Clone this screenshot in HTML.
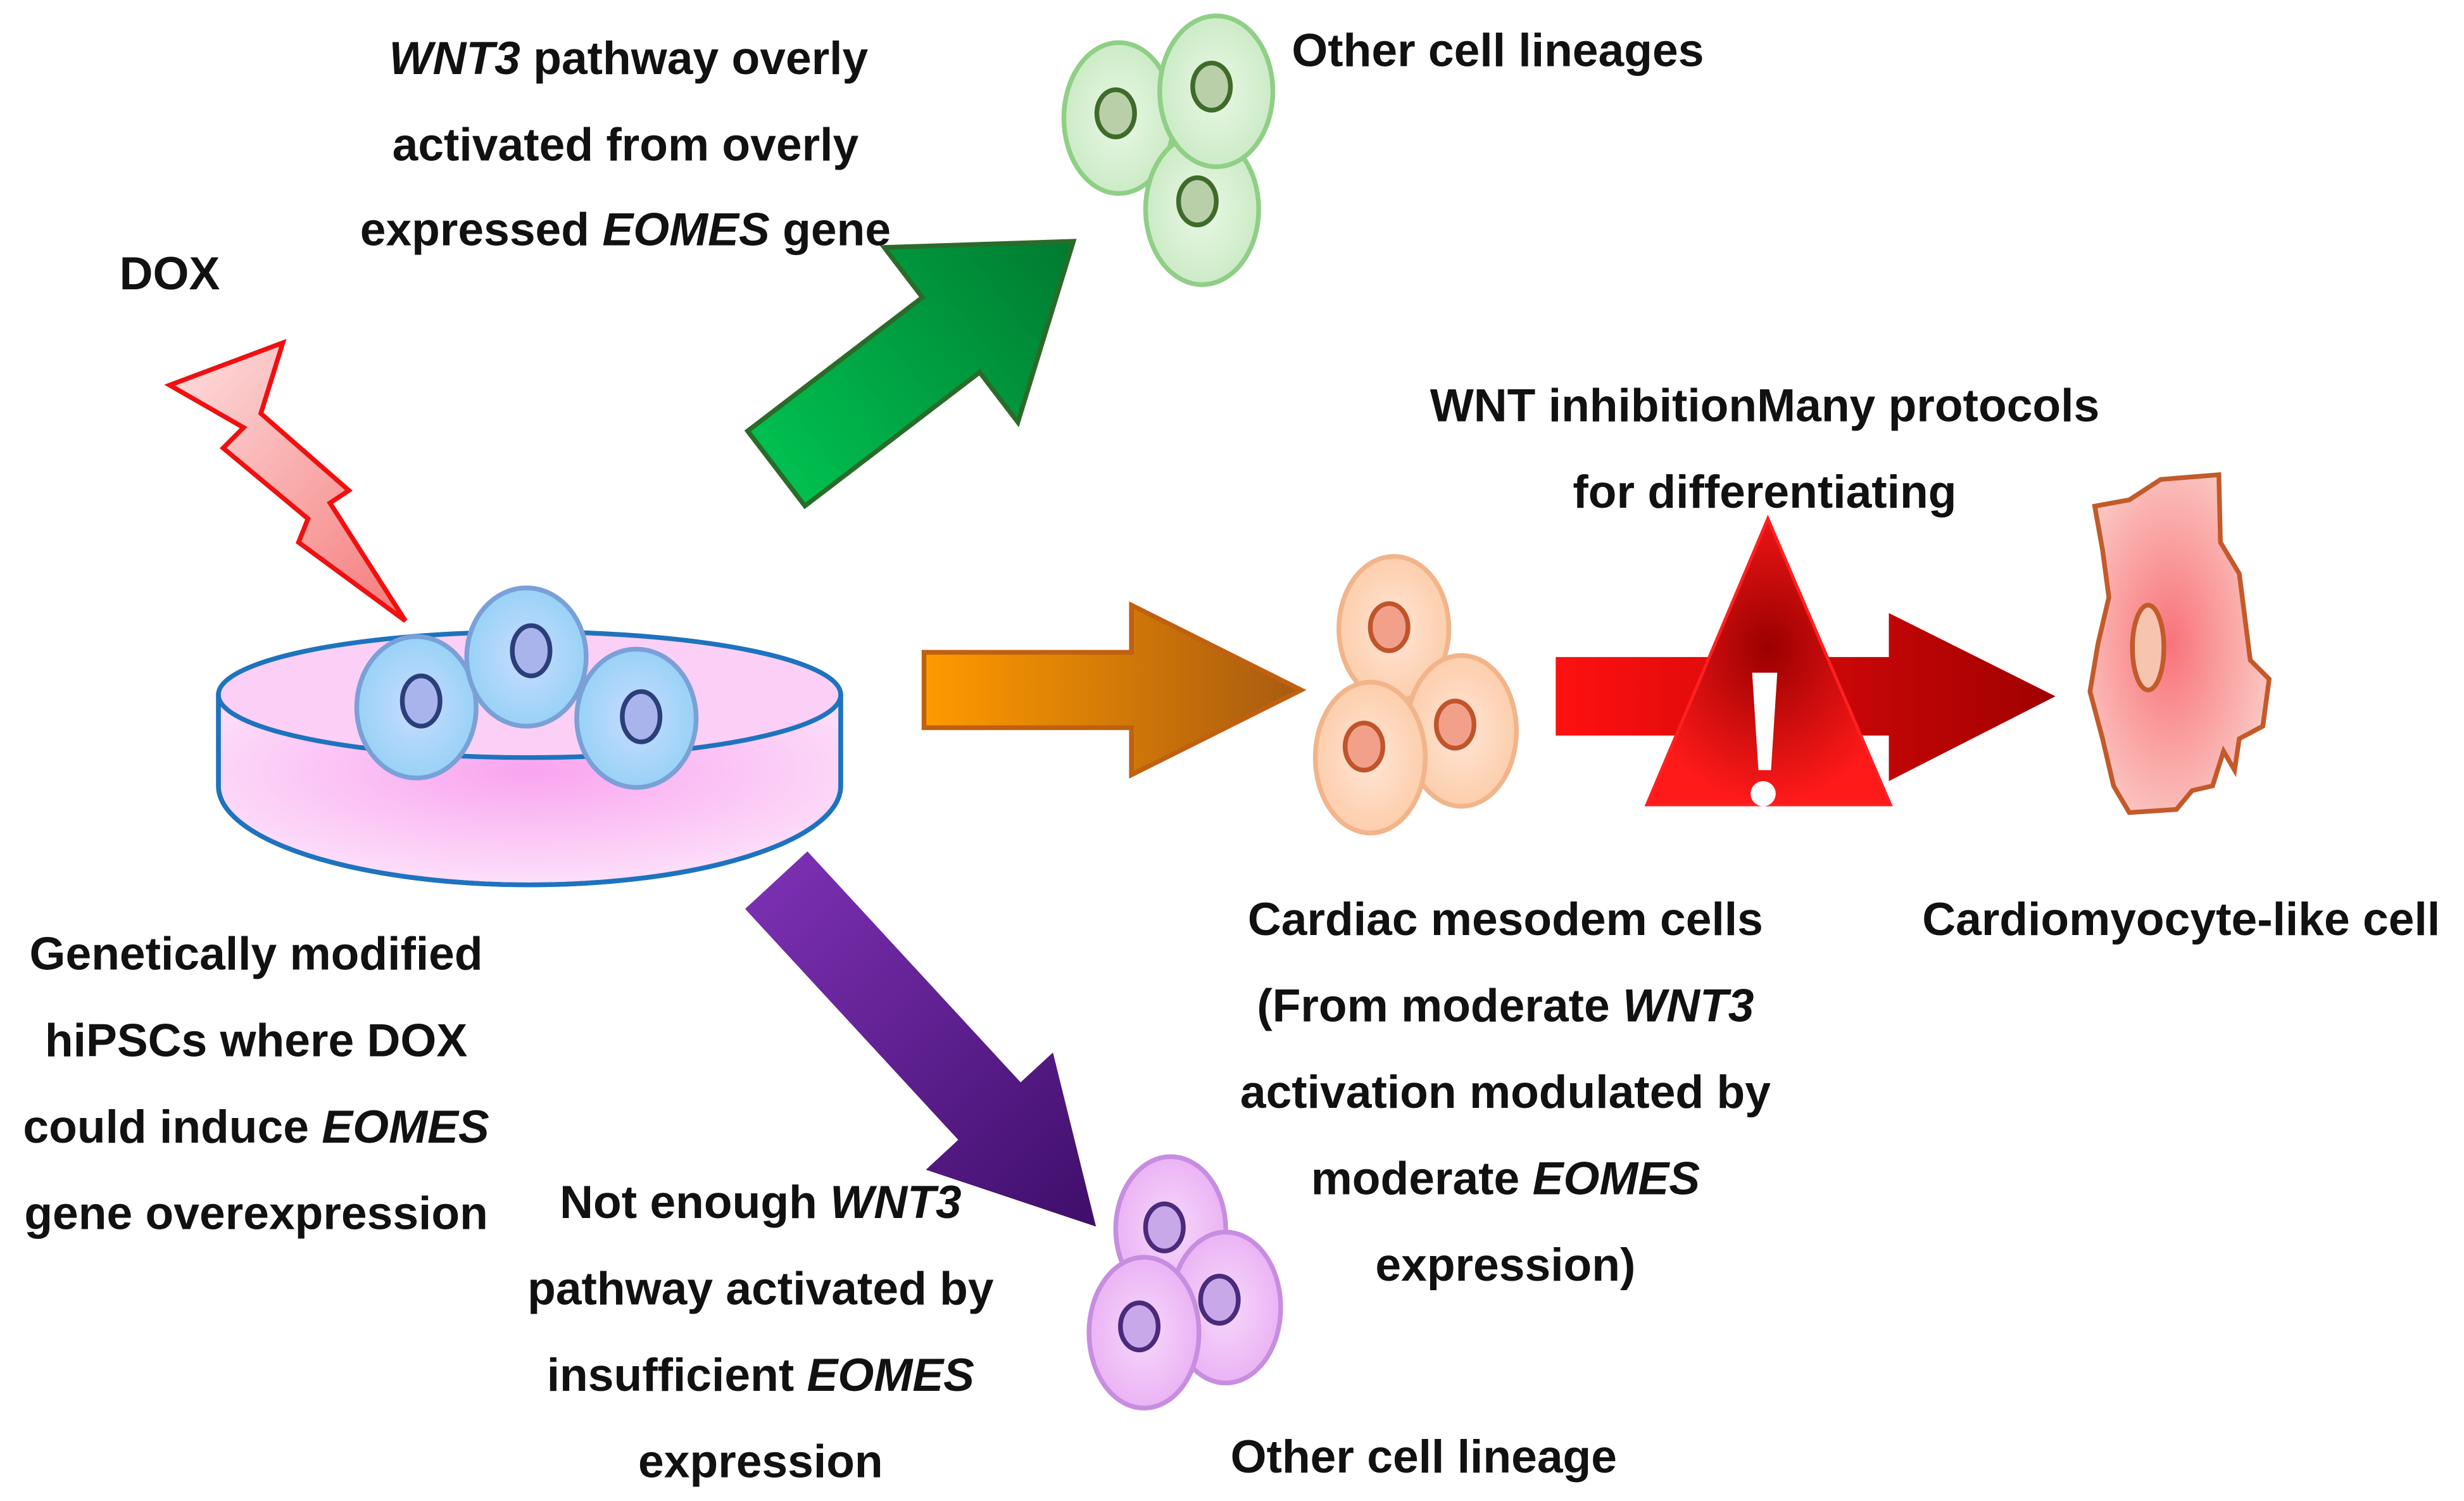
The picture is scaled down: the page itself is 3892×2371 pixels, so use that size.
<!DOCTYPE html>
<html><head><meta charset="utf-8"><style>
html,body{margin:0;padding:0;background:#fff;}
svg{display:block;}
text{font-family:"Liberation Sans",sans-serif;font-weight:bold;font-size:29.5px;fill:#111;}
</style></head><body>
<svg width="3892" height="2371" viewBox="0 0 1568 955" xmlns="http://www.w3.org/2000/svg">
<defs>
<radialGradient id="blueCell" cx="50%" cy="50%" r="60%"><stop offset="0" stop-color="#c9dcff"/><stop offset="1" stop-color="#8fd0f5"/></radialGradient>
<radialGradient id="greenCell" cx="50%" cy="50%" r="60%"><stop offset="0" stop-color="#eaf7e6"/><stop offset="1" stop-color="#c6e9c0"/></radialGradient>
<radialGradient id="orCell" cx="50%" cy="50%" r="60%"><stop offset="0" stop-color="#ffe6d6"/><stop offset="1" stop-color="#fcc9a4"/></radialGradient>
<radialGradient id="puCell" cx="50%" cy="50%" r="60%"><stop offset="0" stop-color="#f6d8fb"/><stop offset="1" stop-color="#e9acf3"/></radialGradient>
<radialGradient id="dish" cx="50%" cy="40%" r="60%"><stop offset="0" stop-color="#f9a4ef"/><stop offset="1" stop-color="#fde0fa"/></radialGradient>
<radialGradient id="cardio" cx="45%" cy="50%" r="55%"><stop offset="0" stop-color="#f8737a"/><stop offset="1" stop-color="#fbc5c0"/></radialGradient>
<radialGradient id="warn" cx="50%" cy="45%" r="55%"><stop offset="0" stop-color="#9a0000"/><stop offset="1" stop-color="#ff1a1a"/></radialGradient>
<linearGradient id="bolt" x1="0" y1="0" x2="1" y2="1"><stop offset="0" stop-color="#fde0e0"/><stop offset="1" stop-color="#f57a7a"/></linearGradient>
<linearGradient id="gArr" x1="0" y1="0" x2="1" y2="0"><stop offset="0" stop-color="#00c050"/><stop offset="1" stop-color="#007a30"/></linearGradient>
<linearGradient id="oArr" x1="0" y1="0" x2="1" y2="0"><stop offset="0" stop-color="#ff9a00"/><stop offset="1" stop-color="#a85a10"/></linearGradient>
<linearGradient id="rArr" x1="0" y1="0" x2="1" y2="0"><stop offset="0" stop-color="#ff1010"/><stop offset="1" stop-color="#a00000"/></linearGradient>
<linearGradient id="pArr" x1="0" y1="0" x2="1" y2="0"><stop offset="0" stop-color="#7a2fb0"/><stop offset="1" stop-color="#3e0e6a"/></linearGradient>
</defs>

<text x="400" y="47" text-anchor="middle"><tspan font-style="italic">WNT3</tspan> pathway overly</text>
<text x="398" y="102" text-anchor="middle">activated from overly</text>
<text x="398" y="156" text-anchor="middle">expressed <tspan font-style="italic">EOMES</tspan> gene</text>
<text x="76" y="184">DOX</text>
<text x="822" y="42">Other cell lineages</text>
<text x="1123" y="268" text-anchor="middle">WNT inhibitionMany protocols</text>
<text x="1123" y="323" text-anchor="middle">for differentiating</text>

<polygon points="108,245 180,218 166,263 222,312 210,320 258,395 190,345 196,330 142,285 155,272" fill="url(#bolt)" stroke="#f01010" stroke-width="3"/>

<path d="M139,442 L139,500 A198,63 0 0 0 535,500 L535,442 Z" fill="url(#dish)" stroke="#1e73be" stroke-width="3"/>
<ellipse cx="337" cy="442" rx="198" ry="40" fill="#fcd0f6" stroke="#1e73be" stroke-width="3"/>
<path d="M139,442 L139,500 A198,63 0 0 0 535,500 L535,442" fill="none" stroke="#1e73be" stroke-width="3"/>

<g stroke="#7aa0d8" stroke-width="3" fill="url(#blueCell)">
<ellipse cx="265" cy="450" rx="38" ry="45"/>
<ellipse cx="335" cy="418" rx="38" ry="44"/>
<ellipse cx="405" cy="457" rx="38" ry="44"/>
</g>
<g stroke="#2a3f7a" stroke-width="3" fill="#a9b4ec">
<ellipse cx="268" cy="446" rx="12" ry="16"/>
<ellipse cx="338" cy="414" rx="12" ry="16"/>
<ellipse cx="408" cy="456" rx="12" ry="16"/>
</g>

<g transform="translate(494,298) rotate(-37.4)">
<polygon points="0,-30 140,-30 140,-70 238,0 140,70 140,30 0,30" fill="url(#gArr)" stroke="#2a6b2a" stroke-width="3"/>
</g>
<g stroke="#8fcf86" stroke-width="3" fill="url(#greenCell)">
<ellipse cx="712" cy="75" rx="35" ry="48"/>
<ellipse cx="765" cy="133" rx="36" ry="48"/>
<ellipse cx="774" cy="58" rx="36" ry="48"/>
</g>
<g stroke="#3f6b2a" stroke-width="3" fill="#b8cfa8">
<ellipse cx="710" cy="72" rx="12" ry="15"/>
<ellipse cx="762" cy="128" rx="12" ry="15"/>
<ellipse cx="771" cy="55" rx="12" ry="15"/>
</g>

<polygon points="588,415 720,415 720,385 828,439 720,493 720,463 588,463" fill="url(#oArr)" stroke="#c06010" stroke-width="3"/>
<g stroke="#f2b48a" stroke-width="3" fill="url(#orCell)">
<ellipse cx="887" cy="400" rx="35" ry="46"/>
<ellipse cx="930" cy="465" rx="35" ry="48"/>
<ellipse cx="872" cy="482" rx="35" ry="48"/>
</g>
<g stroke="#c0542a" stroke-width="3" fill="#f2a08a">
<ellipse cx="884" cy="399" rx="12" ry="15"/>
<ellipse cx="926" cy="461" rx="12" ry="15"/>
<ellipse cx="868" cy="475" rx="12" ry="15"/>
</g>

<polygon points="990,418 1202,418 1202,390 1308,443 1202,497 1202,468 990,468" fill="url(#rArr)"/>
<polygon points="1125,330 1048,512 1203,512" fill="url(#warn)" stroke="#ff2020" stroke-width="2"/>
<polygon points="1115,428 1131,428 1127,490 1119,490" fill="#fff"/>
<circle cx="1122" cy="505" r="8" fill="#fff"/>

<path d="M1333,322 L1355,318 L1375,305 L1412,302 L1413,345 L1425,365 L1432,420 L1444,432 L1440,462 L1425,470 L1422,490 L1415,478 L1408,500 L1395,503 L1385,515 L1355,517 L1345,500 L1338,470 L1330,440 L1335,410 L1342,380 L1338,350 Z" fill="url(#cardio)" stroke="#c35a2a" stroke-width="3"/>
<ellipse cx="1367" cy="412" rx="10" ry="27" fill="#f7c4b0" stroke="#c35a2a" stroke-width="3"/>

<g transform="translate(494,560) rotate(47.3)">
<polygon points="0,-27 200,-27 200,-55 300,0 200,55 200,27 0,27" fill="url(#pArr)"/>
</g>
<g stroke="#c78de0" stroke-width="3" fill="url(#puCell)">
<ellipse cx="745" cy="782" rx="35" ry="46"/>
<ellipse cx="780" cy="832" rx="35" ry="48"/>
<ellipse cx="728" cy="848" rx="35" ry="48"/>
</g>
<g stroke="#4a2a7a" stroke-width="3" fill="#c8a8e8">
<ellipse cx="741" cy="781" rx="12" ry="15"/>
<ellipse cx="776" cy="827" rx="12" ry="15"/>
<ellipse cx="725" cy="844" rx="12" ry="15"/>
</g>

<text x="163" y="617" text-anchor="middle">Genetically modified</text>
<text x="163" y="672" text-anchor="middle">hiPSCs where DOX</text>
<text x="163" y="727" text-anchor="middle">could induce <tspan font-style="italic">EOMES</tspan></text>
<text x="163" y="782" text-anchor="middle">gene overexpression</text>
<text x="958" y="595" text-anchor="middle">Cardiac mesodem cells</text>
<text x="958" y="650" text-anchor="middle">(From moderate <tspan font-style="italic">WNT3</tspan></text>
<text x="958" y="705" text-anchor="middle">activation modulated by</text>
<text x="958" y="760" text-anchor="middle">moderate <tspan font-style="italic">EOMES</tspan></text>
<text x="958" y="815" text-anchor="middle">expression)</text>
<text x="1388" y="595" text-anchor="middle">Cardiomyocyte-like cell</text>
<text x="484" y="775" text-anchor="middle">Not enough <tspan font-style="italic">WNT3</tspan></text>
<text x="484" y="830" text-anchor="middle">pathway activated by</text>
<text x="484" y="885" text-anchor="middle">insufficient <tspan font-style="italic">EOMES</tspan></text>
<text x="484" y="940" text-anchor="middle">expression</text>
<text x="906" y="937" text-anchor="middle">Other cell lineage</text>
</svg>
</body></html>
